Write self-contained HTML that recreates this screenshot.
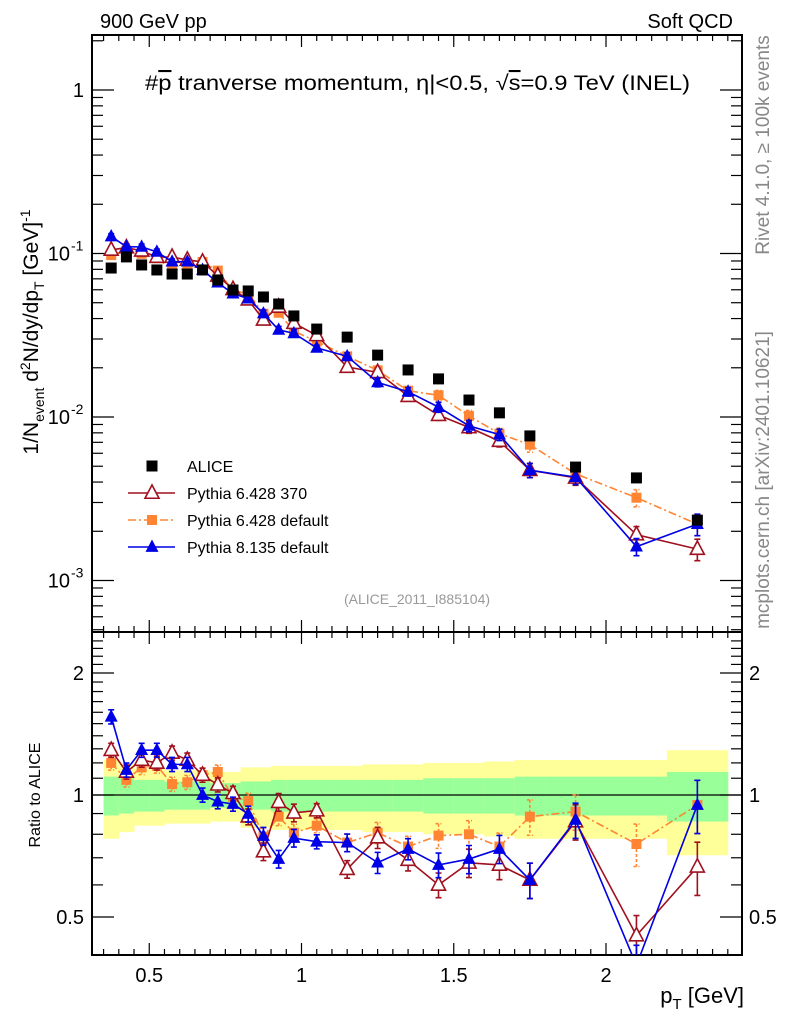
<!DOCTYPE html>
<html><head><meta charset="utf-8"><style>
html,body{margin:0;padding:0;background:#fff}
svg{display:block;font-family:"Liberation Sans",sans-serif}
</style></head><body>
<svg id="c" width="786" height="1024" viewBox="0 0 786 1024">
<g id="bands"></g>
<g id="axes"></g>
<g id="marks"></g>
<text x="100" y="28" font-size="20">900 GeV pp</text>
<text x="733" y="28" font-size="20" text-anchor="end">Soft QCD</text>
<text x="145" y="90" font-size="21" textLength="545" lengthAdjust="spacingAndGlyphs">#<tspan text-decoration="overline">p</tspan> tranverse momentum, η|&lt;0.5, √<tspan text-decoration="overline">s</tspan>=0.9 TeV (INEL)</text>
<text transform="translate(38,332) rotate(-90)" font-size="21" text-anchor="middle">1/N<tspan font-size="14" dy="6">event</tspan><tspan dy="-6"> d</tspan><tspan font-size="14" dy="-8">2</tspan><tspan dy="8">N/dy/dp</tspan><tspan font-size="14" dy="6">T</tspan><tspan dy="-6"> [GeV]</tspan><tspan font-size="14" dy="-8">-1</tspan></text>
<text transform="translate(40,795) rotate(-90)" font-size="16" text-anchor="middle">Ratio to ALICE</text>
<text x="744" y="1003" font-size="22" text-anchor="end">p<tspan font-size="15" dy="6">T</tspan><tspan dy="-6"> [GeV]</tspan></text>
<text transform="translate(769,145) rotate(-90)" font-size="19" fill="#888" text-anchor="middle">Rivet 4.1.0, ≥ 100k events</text>
<text transform="translate(769,480) rotate(-90)" font-size="19" fill="#888" text-anchor="middle">mcplots.cern.ch [arXiv:2401.10621]</text>
<text x="417" y="604" font-size="14" fill="#999" text-anchor="middle">(ALICE_2011_I885104)</text>
<g id="legend"></g>
</svg>
<script>
const pt = [0.375,0.425,0.475,0.525,0.575,0.625,0.675,0.725,0.775,0.825,0.875,0.925,0.975,1.05,1.15,1.25,1.35,1.45,1.55,1.65,1.75,1.9,2.1,2.3];
const binLo = [0.35,0.4,0.45,0.5,0.55,0.6,0.65,0.7,0.75,0.8,0.85,0.9,0.95,1.0,1.1,1.2,1.3,1.4,1.5,1.6,1.7,1.8,2.0,2.2];
const binHi = [0.4,0.45,0.5,0.55,0.6,0.65,0.7,0.75,0.8,0.85,0.9,0.95,1.0,1.1,1.2,1.3,1.4,1.5,1.6,1.7,1.8,2.0,2.2,2.4];
const alice = [0.0815,0.0953,0.0851,0.0793,0.0749,0.0749,0.0793,0.0689,0.0598,0.0590,0.0542,0.0491,0.0415,0.0345,0.0308,0.0239,0.0194,0.0171,0.0127,0.0106,0.00766,0.00494,0.00424,0.00234];
const ratioP6_370 = [1.29,1.14,1.22,1.2,1.27,1.22,1.12,1.06,1.01,0.884,0.725,0.96,0.904,0.915,0.656,0.785,0.691,0.6,0.68,0.672,0.617,0.86,0.45,0.665];
const ratioP6_def = [1.2,1.09,1.17,1.18,1.064,1.075,1.12,1.14,0.99,0.966,0.79,0.884,0.807,0.84,0.763,0.807,0.746,0.794,0.8,0.746,0.884,0.91,0.757,0.945];
const ratioP8 = [1.56,1.153,1.29,1.29,1.19,1.19,1.0,0.963,0.95,0.898,0.792,0.695,0.783,0.767,0.763,0.681,0.736,0.672,0.695,0.736,0.617,0.868,0.38,0.945];
const mcErr = [0.04,0.04,0.04,0.04,0.04,0.04,0.04,0.04,0.04,0.045,0.05,0.05,0.05,0.04,0.05,0.06,0.06,0.07,0.08,0.08,0.1,0.1,0.12,0.15];
const greenErr = [0.11,0.1,0.09,0.09,0.08,0.08,0.08,0.07,0.07,0.08,0.08,0.09,0.09,0.09,0.09,0.09,0.09,0.1,0.1,0.1,0.11,0.11,0.11,0.14];
const yellowErr = [0.22,0.19,0.16,0.16,0.15,0.15,0.15,0.14,0.14,0.17,0.17,0.18,0.18,0.18,0.18,0.19,0.19,0.2,0.2,0.21,0.22,0.22,0.22,0.29];
const xTickLabels = ["0.5","1","1.5","2"];
const xTickVals = [0.5,1,1.5,2];

const L=92,R=742,T=35,M=632,B=955;
const X = v => -3 + 304.5*v;
const Y = v => 90 - 163.5*Math.log10(v);
const YR = v => 795 - 122*Math.log2(v);
const NS="http://www.w3.org/2000/svg";
function mk(tag, attrs, parent){const e=document.createElementNS(NS,tag);for(const k in attrs)e.setAttribute(k,attrs[k]);parent.appendChild(e);return e;}
const bands=document.getElementById('bands'), axes=document.getElementById('axes'), marks=document.getElementById('marks'), legend=document.getElementById('legend');

for(let i=0;i<pt.length;i++){
  const y=mk('rect',{x:X(binLo[i]),y:YR(1+yellowErr[i]),width:X(binHi[i])-X(binLo[i])+0.5,height:YR(1-yellowErr[i])-YR(1+yellowErr[i]),fill:'#ffff99'},bands);
  
  
  const g=mk('rect',{x:X(binLo[i]),y:YR(1+greenErr[i]),width:X(binHi[i])-X(binLo[i])+0.5,height:YR(1-greenErr[i])-YR(1+greenErr[i]),fill:'#99ff99'},bands);
  
  
}
mk('line',{x1:L,x2:R,y1:YR(1),y2:YR(1),stroke:'#000','stroke-width':1.3},axes);

mk('rect',{x:L,y:T,width:R-L,height:M-T,fill:'none',stroke:'#000','stroke-width':2},axes);
mk('rect',{x:L,y:M,width:R-L,height:B-M,fill:'none',stroke:'#000','stroke-width':2},axes);

for(let k=7;k<=48;k++){
  const v=k*0.05, x=X(v); if(x<L||x>R) continue;
  const major = k%10===0, len = major?12:6;
  [[T,1],[M,-1],[M,1],[B,-1]].forEach(([y0,d])=>mk('line',{x1:x,x2:x,y1:y0,y2:y0+d*len,stroke:'#000','stroke-width':1.2},axes));
}
xTickVals.forEach((v,i)=>{const t=mk('text',{x:X(v),y:982,'font-size':20,'text-anchor':'middle'},axes);t.textContent=xTickLabels[i];

});

for(let e=-4;e<=0;e++){for(let m=1;m<=9;m++){const v=m*Math.pow(10,e),y=Y(v);if(y<T||y>M)continue;const len=m===1?22:11;
  mk('line',{x1:L,x2:L+len,y1:y,y2:y,stroke:'#000','stroke-width':1.2},axes);
  mk('line',{x1:R,x2:R-len,y1:y,y2:y,stroke:'#000','stroke-width':1.2},axes);}}
[[1,'1'],[0.1,'10','-1'],[0.01,'10','-2'],[0.001,'10','-3']].forEach(a=>{
  const t=mk('text',{x:a[2]?70:84,y:Y(a[0])+7,'font-size':20,'text-anchor':'end'},axes);t.textContent=a[1];
  
  
  if(a[2]){const s=mk('text',{x:71,y:Y(a[0])-3,'font-size':14},axes);s.textContent=a[2];}
});
for(let v=0.4;v<=2.41;v+=0.1){const r=Math.round(v*10)/10,y=YR(r);if(y<M||y>B)continue;const big=(r===0.5||r===1||r===2);const len=big?22:11;
  mk('line',{x1:L,x2:L+len,y1:y,y2:y,stroke:'#000','stroke-width':1.2},axes);
  mk('line',{x1:R,x2:R-len,y1:y,y2:y,stroke:'#000','stroke-width':1.2},axes);}
[[2,'2'],[1,'1'],[0.5,'0.5']].forEach(a=>{
  const t=mk('text',{x:84,y:YR(a[0])+7,'font-size':20,'text-anchor':'end'},axes);t.textContent=a[1];
  
  
  const t2=mk('text',{x:749,y:YR(a[0])+7,'font-size':20},axes);t2.textContent=a[1];
  
  
});

const defs=mk('defs',{},document.getElementById('c'));
const c1=mk('clipPath',{id:'cm'},defs);mk('rect',{x:L,y:T,width:R-L,height:M-T},c1);
const c2=mk('clipPath',{id:'cr'},defs);mk('rect',{x:L,y:M,width:R-L,height:B-M},c2);
const gm=mk('g',{'clip-path':'url(#cm)'},marks), gr=mk('g',{'clip-path':'url(#cr)'},marks);

function marker(type,x,y,col,par,s){
  if(type==='sq') return mk('rect',{x:x-s,y:y-s,width:2*s,height:2*s,fill:col},par);
  const p=`${x},${y-s*1.15} ${x-s},${y+s*0.75} ${x+s},${y+s*0.75}`;
  if(type==='tri') return mk('polygon',{points:p,fill:col},par);
  return mk('polygon',{points:p,fill:'#fff',stroke:col,'stroke-width':1.6},par);
}
const series=[
  {name:'p6-default',r:ratioP6_def,col:'#ff8533',m:'sq',dash:'8,3,2,3',s:5},
  {name:'p6-370',r:ratioP6_370,col:'#a0101e',m:'otri',dash:null,s:7},
  {name:'p8',r:ratioP8,col:'#0000e6',m:'tri',dash:null,s:6.5}
];
series.forEach(S=>{
  [[gm,i=>Y(alice[i]*S.r[i]),i=>Y(alice[i]*S.r[i]*(1+mcErr[i])),i=>Y(alice[i]*S.r[i]*(1-mcErr[i]))],
   [gr,i=>YR(S.r[i]),i=>YR(S.r[i]*(1+mcErr[i])),i=>YR(S.r[i]*(1-mcErr[i]))]].forEach(([par,fy,fu,fd],pi)=>{
    const pts=pt.map((v,i)=>X(v)+','+fy(i)).join(' ');
    const pl=mk('polyline',{points:pts,fill:'none',stroke:S.col,'stroke-width':1.6},par);
    if(S.dash) pl.setAttribute('stroke-dasharray',S.dash);
    
    
    pt.forEach((v,i)=>{
      const x=X(v);
      const eb=mk('path',{d:`M${x},${fu(i)}V${fd(i)}M${x-3},${fu(i)}h6M${x-3},${fd(i)}h6`,stroke:S.col,'stroke-width':1.6,fill:'none'},par);
      if(S.dash) eb.setAttribute('stroke-dasharray','3,2');
      
      
      const mm=marker(S.m,x,fy(i),S.col,par,S.s);
      
      
    });
  });
});
alice.forEach((v,i)=>{const m=marker('sq',X(pt[i]),Y(v),'#000',gm,5.5);
  
  });

const leg=[['ALICE','sq','#000',null,5.5],['Pythia 6.428 370','otri','#a0101e',null,7],['Pythia 6.428 default','sq','#ff8533','8,3,2,3',5],['Pythia 8.135 default','tri','#0000e6',null,6.5]];
leg.forEach((l,i)=>{
  const y=466+i*27;
  const g=mk('g',{},legend);
  
  
  if(i>0){const ln=mk('line',{x1:128,x2:175,y1:y,y2:y,stroke:l[2],'stroke-width':1.6},g);if(l[3])ln.setAttribute('stroke-dasharray',l[3]);}
  marker(l[1],152,y,l[2],g,l[4]);
  const t=mk('text',{x:187,y:y+6,'font-size':16},g);t.textContent=l[0];
});
</script>
</body></html>
